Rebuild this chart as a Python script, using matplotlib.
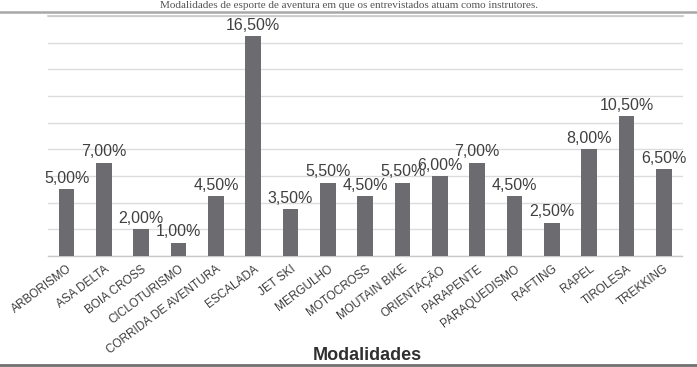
import matplotlib
matplotlib.use("Agg")
import matplotlib.pyplot as plt
from matplotlib.lines import Line2D

categories = ["ARBORISMO", "ASA DELTA", "BOIA CROSS", "CICLOTURISMO", "CORRIDA DE AVENTURA",
              "ESCALADA", "JET SKI", "MERGULHO", "MOTOCROSS", "MOUTAIN BIKE", "ORIENTAÇÃO",
              "PARAPENTE", "PARAQUEDISMO", "RAFTING", "RAPEL", "TIROLESA", "TREKKING"]
values = [5.0, 7.0, 2.0, 1.0, 4.5, 16.5, 3.5, 5.5, 4.5, 5.5, 6.0, 7.0, 4.5, 2.5, 8.0, 10.5, 6.5]
value_labels = ["5,00%", "7,00%", "2,00%", "1,00%", "4,50%", "16,50%", "3,50%", "5,50%", "4,50%",
                "5,50%", "6,00%", "7,00%", "4,50%", "2,50%", "8,00%", "10,50%", "6,50%"]
caption = "Modalidades de esporte de aventura em que os entrevistados atuam como instrutores."
xlabel = "Modalidades"

W, H = 697, 367
fig = plt.figure(figsize=(W / 100, H / 100), dpi=100)
fig.patch.set_facecolor("white")

left, right, top, bottom = 48, 682.5, 16, 256
ax = fig.add_axes([left / W, 1 - bottom / H, (right - left) / W, (bottom - top) / H])

x = list(range(len(categories)))
ax.bar(x, values, width=0.42, color="#6b6b70", zorder=3)
ax.set_xlim(-0.5, len(categories) - 0.5)
ax.set_ylim(0, 18)
ax.set_yticks([i * 2 for i in range(10)])
ax.yaxis.grid(True, color="#dcdcdc", linewidth=1, zorder=0)
ax.tick_params(axis="y", left=False, labelleft=False)
ax.tick_params(axis="x", bottom=False, length=0, pad=5)
for s in ["left", "right", "top"]:
    ax.spines[s].set_visible(False)
ax.spines["bottom"].set_color("#c8c8c8")
ax.spines["bottom"].set_linewidth(1)

for xi, v, lab in zip(x, values, value_labels):
    ax.text(xi, v + 0.48, lab, ha="center", va="baseline", fontsize=11.5,
            family="Liberation Sans", color="#404040")

ax.set_xticks(x)
ax.set_xticklabels(categories, rotation=37, ha="right", rotation_mode="anchor",
                   fontsize=8.5, family="Liberation Sans", color="#3c3c3c")

# top decorations
fig.add_artist(Line2D([0, 1], [1 - 11.5 / H, 1 - 11.5 / H], transform=fig.transFigure,
                      color="#a8a8a8", linewidth=1.8))
fig.add_artist(Line2D([left / W, right / W], [1 - top / H, 1 - top / H], transform=fig.transFigure,
                      color="#c8c8c8", linewidth=1.2))
fig.text(0.5, 1 - 7.5 / H, caption, ha="center", va="baseline", fontsize=8,
         family="Liberation Serif", color="#555555")

# bottom
fig.text(367 / W, 1 - 355 / H, xlabel, ha="center", va="center", fontsize=13,
         fontweight="bold", family="Liberation Sans", color="#303030")
fig.add_artist(Line2D([0, 1], [1 - 365 / H, 1 - 365 / H], transform=fig.transFigure,
                      color="#707070", linewidth=2))

fig.savefig("out.png", dpi=100)
